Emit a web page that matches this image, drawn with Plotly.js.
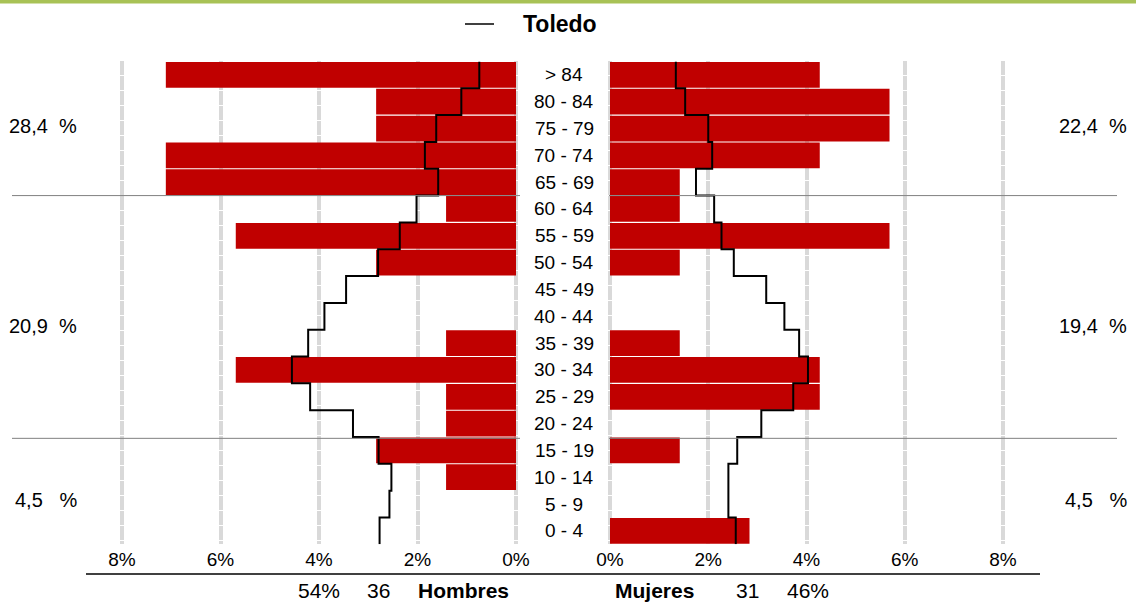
<!DOCTYPE html>
<html>
<head>
<meta charset="utf-8">
<script src="https://cdn.plot.ly/plotly-3.0.1.min.js"></script>
<style>html,body{margin:0;padding:0;background:#fff;}#chart{width:1136px;height:603px;}</style>
</head>
<body>
<div id="chart"></div>
<script>
// Age groups, listed from youngest (bottom) to oldest (top)
const ageGroups = ['0 - 4','5 - 9','10 - 14','15 - 19','20 - 24','25 - 29','30 - 34','35 - 39','40 - 44','45 - 49','50 - 54','55 - 59','60 - 64','65 - 69','70 - 74','75 - 79','80 - 84','> 84'];
// Local population share (%), men and women
const hombres = [0, 0, 1.42, 2.84, 1.42, 1.42, 5.69, 1.42, 0, 0, 2.84, 5.69, 1.42, 7.11, 7.11, 2.84, 2.84, 7.11];
const mujeres = [2.84, 0, 0, 1.42, 0, 4.27, 4.27, 1.42, 0, 0, 1.42, 5.69, 1.42, 1.42, 4.27, 5.69, 5.69, 4.27];
// Reference population (Toledo), %
const toledoHombres = [2.77, 2.57, 2.53, 2.79, 3.31, 4.18, 4.55, 4.22, 3.89, 3.45, 2.80, 2.36, 2.02, 1.58, 1.85, 1.62, 1.11, 0.745];
const toledoMujeres = [2.56, 2.41, 2.41, 2.59, 3.08, 3.73, 4.03, 3.85, 3.55, 3.18, 2.52, 2.27, 2.12, 1.75, 2.08, 2.00, 1.53, 1.34];
// Axis ticks
const tickValues = [0, 2, 4, 6, 8];
const tickLabels = ['0%', '2%', '4%', '6%', '8%'];
// Group summaries
const gruposHombres = ['28,4\u00a0\u00a0%', '20,9\u00a0\u00a0%', '4,5\u00a0\u00a0\u00a0%'];
const gruposMujeres = ['22,4\u00a0\u00a0%', '19,4\u00a0\u00a0%', '4,5\u00a0\u00a0\u00a0%'];
const totalHombres = 36, pctHombres = '54%';
const totalMujeres = 31, pctMujeres = '46%';
const legendName = 'Toledo';

const W = 1136, H = 603;
const FONT = '"Liberation Sans", Arial, sans-serif';
const RED = '#c00000';
const idx = ageGroups.map((_, i) => i);

function stepPoints(vals) {
  const xs = [], ys = [];
  vals.forEach((v, i) => { xs.push(v, v); ys.push(i - 0.5, i + 0.5); });
  return {x: xs, y: ys};
}
const sh = stepPoints(toledoHombres), sm = stepPoints(toledoMujeres);

const traces = [
  {type: 'bar', orientation: 'h', x: hombres, y: idx, xaxis: 'x', yaxis: 'y',
   marker: {color: RED, line: {width: 0}}, hoverinfo: 'skip', showlegend: false, name: 'Hombres'},
  {type: 'bar', orientation: 'h', x: mujeres, y: idx, xaxis: 'x2', yaxis: 'y2',
   marker: {color: RED, line: {width: 0}}, hoverinfo: 'skip', showlegend: false, name: 'Mujeres'},
  {type: 'scatter', mode: 'lines', x: sh.x, y: sh.y, xaxis: 'x', yaxis: 'y',
   line: {color: '#000', width: 2}, hoverinfo: 'skip', showlegend: false, name: legendName},
  {type: 'scatter', mode: 'lines', x: sm.x, y: sm.y, xaxis: 'x2', yaxis: 'y2',
   line: {color: '#000', width: 2}, hoverinfo: 'skip', showlegend: false, name: legendName}
];

const pxPerPctL = 49.25, pxPerPctR = 49.125;
const leftZero = 516, rightZero = 610;
const leftEnd = 530, rightStart = 596;
const yDomain = [1 - 544.3 / H, 1 - 61.45 / H];

const axisCommon = {
  tickvals: tickValues, ticktext: tickLabels, showgrid: true, gridcolor: '#d9d9d9', gridwidth: 4,
  griddash: '14px,1px', zeroline: false, showline: false, ticks: '', fixedrange: true,
  tickfont: {family: FONT, size: 19, color: '#000'}, ticklabelstandoff: 2
};

const layout = {
  width: W, height: H, margin: {l: 0, r: 0, t: 0, b: 0},
  paper_bgcolor: '#fff', plot_bgcolor: 'rgba(0,0,0,0)',
  font: {family: FONT, color: '#000'},
  bargap: 0.04, showlegend: false,
  xaxis: Object.assign({}, axisCommon, {
    domain: [0, leftEnd / W], range: [leftZero / pxPerPctL, (leftZero - leftEnd) / pxPerPctL],
    anchor: 'y'
  }),
  xaxis2: Object.assign({}, axisCommon, {
    domain: [rightStart / W, 1], range: [(rightStart - rightZero) / pxPerPctR, (W - rightZero) / pxPerPctR],
    anchor: 'y2'
  }),
  yaxis: {domain: yDomain, range: [-0.5, 17.5], showgrid: false, zeroline: false, showticklabels: false, ticks: '', anchor: 'x', fixedrange: true},
  yaxis2: {domain: yDomain, range: [-0.5, 17.5], showgrid: false, zeroline: false, showticklabels: false, ticks: '', anchor: 'x2', fixedrange: true},
  shapes: [
    {type: 'rect', xref: 'paper', yref: 'paper', x0: 0, x1: 1, y0: 1 - 3.5 / H, y1: 1, fillcolor: '#a8c256', line: {width: 0}},
    {type: 'line', xref: 'paper', yref: 'y', x0: 12 / W, x1: 520 / W, y0: 12.5, y1: 12.5, line: {color: '#808080', width: 1}},
    {type: 'line', xref: 'paper', yref: 'y', x0: 12 / W, x1: 520 / W, y0: 3.45, y1: 3.45, line: {color: '#808080', width: 1}},
    {type: 'line', xref: 'paper', yref: 'y', x0: 609 / W, x1: 1117 / W, y0: 12.5, y1: 12.5, line: {color: '#808080', width: 1}},
    {type: 'line', xref: 'paper', yref: 'y', x0: 609 / W, x1: 1117 / W, y0: 3.45, y1: 3.45, line: {color: '#808080', width: 1}},
    {type: 'line', xref: 'paper', yref: 'paper', x0: 86 / W, x1: 1040 / W, y0: 1 - 574 / H, y1: 1 - 574 / H, line: {color: '#000', width: 1.5}},
    {type: 'line', xref: 'paper', yref: 'paper', x0: 465 / W, x1: 494 / W, y0: 1 - 24 / H, y1: 1 - 24 / H, line: {color: '#000', width: 1.5}}
  ],
  annotations: []
};

// Age group labels in the centre column
ageGroups.forEach((g, i) => {
  layout.annotations.push({xref: 'paper', yref: 'y', x: 564 / W, y: i, text: g, showarrow: false,
    xanchor: 'center', yanchor: 'middle', font: {family: FONT, size: 19, color: '#000'}});
});
// Group summaries on both sides
const groupY = [126, 326, 500];
gruposHombres.forEach((t, i) => {
  layout.annotations.push({xref: 'paper', yref: 'paper', x: 79 / W, y: 1 - groupY[i] / H, text: t, showarrow: false,
    xanchor: 'right', yanchor: 'middle', font: {family: FONT, size: 20, color: '#000'}});
});
gruposMujeres.forEach((t, i) => {
  layout.annotations.push({xref: 'paper', yref: 'paper', x: 1129 / W, y: 1 - groupY[i] / H, text: t, showarrow: false,
    xanchor: 'right', yanchor: 'middle', font: {family: FONT, size: 20, color: '#000'}});
});
// Legend
layout.annotations.push({xref: 'paper', yref: 'paper', x: 521 / W, y: 1 - 24 / H, text: '<b>' + legendName + '</b>', showarrow: false,
  xanchor: 'left', yanchor: 'middle', font: {family: FONT, size: 23, color: '#000'}});
// Footer totals
const footY = 1 - 590 / H;
const foot = [
  {x: 319, t: pctHombres, b: false}, {x: 378.5, t: String(totalHombres), b: false}, {x: 463.5, t: 'Hombres', b: true},
  {x: 654.5, t: 'Mujeres', b: true}, {x: 747, t: String(totalMujeres), b: false}, {x: 807.5, t: pctMujeres, b: false}
];
foot.forEach(f => {
  layout.annotations.push({xref: 'paper', yref: 'paper', x: f.x / W, y: footY, text: f.b ? '<b>' + f.t + '</b>' : f.t,
    showarrow: false, xanchor: 'center', yanchor: 'middle', font: {family: FONT, size: 21, color: '#000'}});
});

Plotly.newPlot('chart', traces, layout, {staticPlot: true, displayModeBar: false});
</script>
</body>
</html>
